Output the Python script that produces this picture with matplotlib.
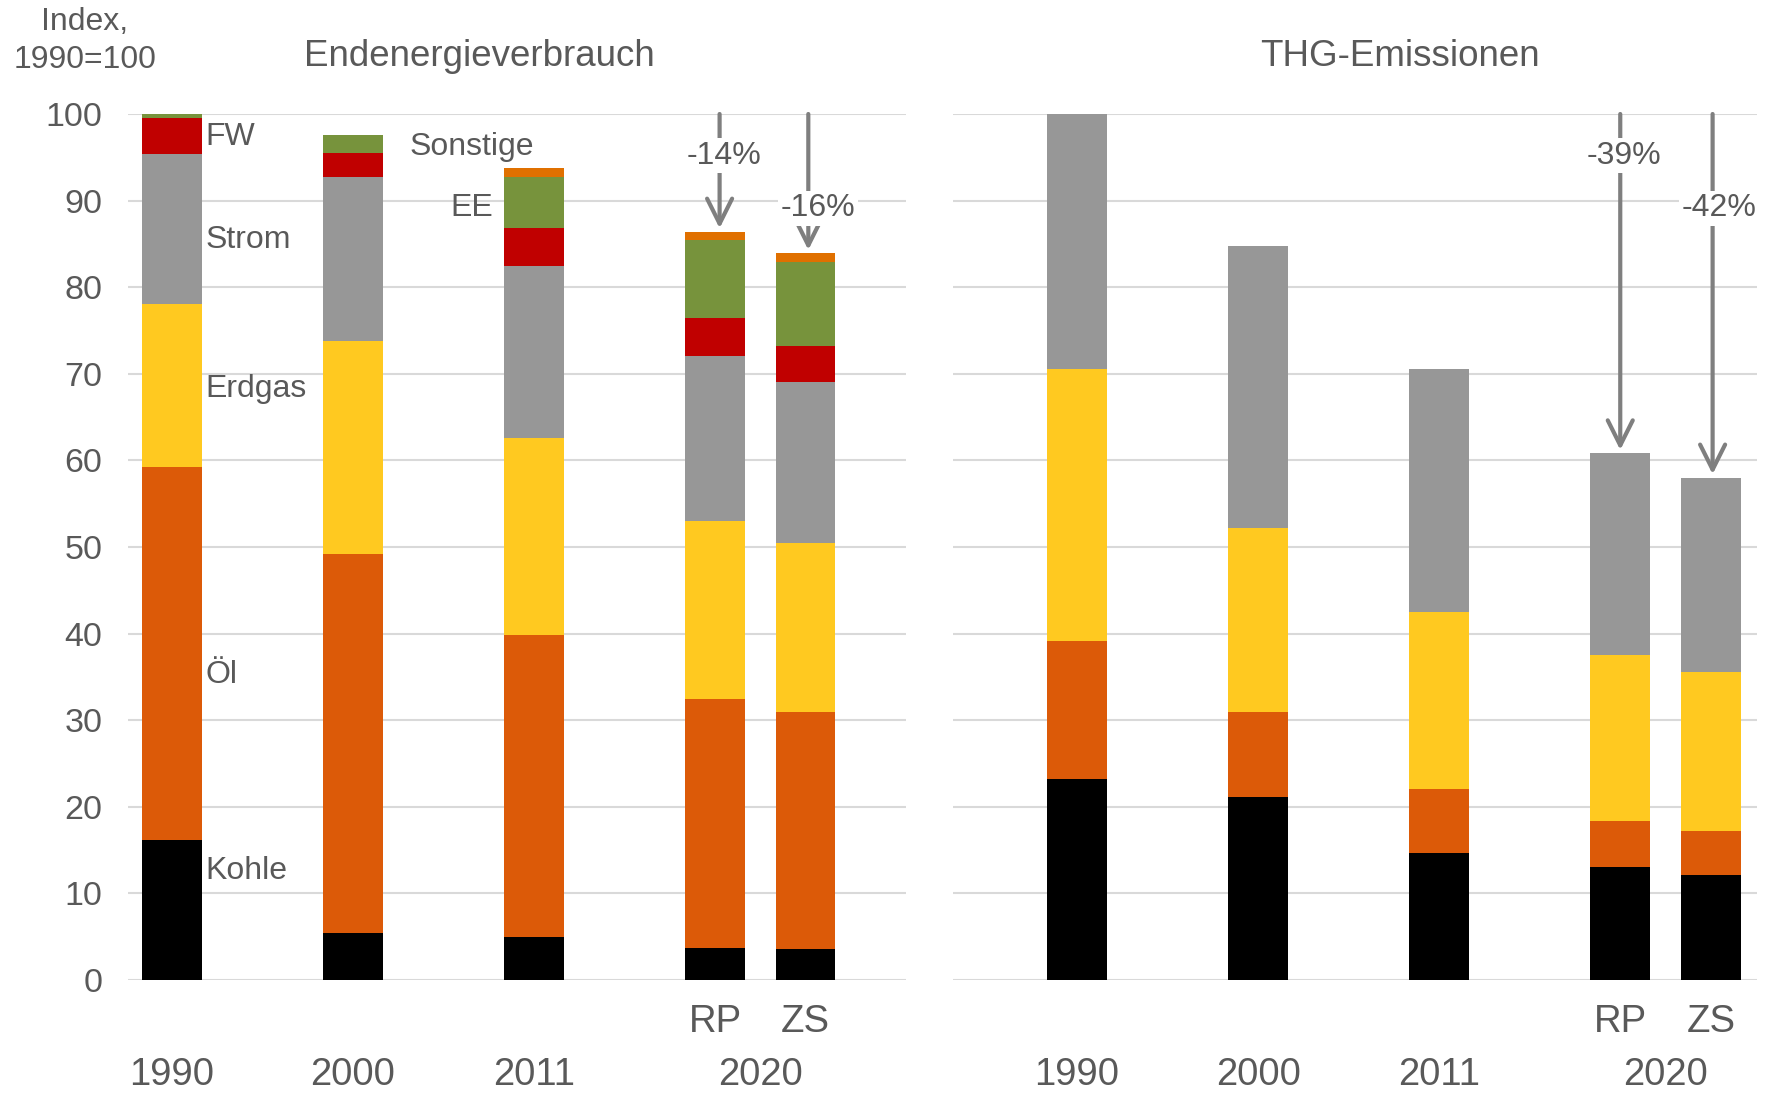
import numpy as np
import matplotlib.pyplot as plt

plt.rcParams['font.family'] = ['Liberation Sans', 'DejaVu Sans']

# Kategorien
jahre = ['1990', '2000', '2011', 'RP', 'ZS']

# Endenergieverbrauch (Index 1990=100)
ev_kohle = [16.2, 5.4, 5.0, 3.7, 3.6]
ev_oel = [43.0, 43.8, 34.8, 28.8, 27.3]
ev_erdgas = [18.9, 24.6, 22.8, 20.5, 19.6]
ev_strom = [17.3, 18.9, 19.8, 19.1, 18.5]
ev_fw = [4.1, 2.8, 4.4, 4.3, 4.2]
ev_ee = [0.5, 2.1, 5.9, 9.0, 9.7]
ev_sonstige = [0.0, 0.0, 1.1, 1.0, 1.0]

# THG-Emissionen (Index 1990=100)
thg_kohle = [23.2, 21.1, 14.7, 13.0, 12.1]
thg_oel = [15.9, 9.8, 7.3, 5.4, 5.1]
thg_erdgas = [31.5, 21.3, 20.5, 19.1, 18.4]
thg_strom = [29.4, 32.5, 28.0, 23.3, 22.4]

aenderung_ev = ['-14%', '-16%']
aenderung_thg = ['-39%', '-42%']

# Farben
c_kohle = '#000000'
c_oel = '#DC5A08'
c_erdgas = '#FFC920'
c_strom = '#979797'
c_fw = '#C00000'
c_ee = '#77933C'
c_sonst = '#E07000'
textfarbe = '#595959'
pfeilfarbe = '#7F7F7F'

pos = np.array([0, 2, 4, 6, 7])
breite = 0.66

fig = plt.figure(figsize=(17.69, 10.93), dpi=100)
ax1 = fig.add_axes([0.0721, 0.1034, 0.4401, 0.7923])
ax2 = fig.add_axes([0.5387, 0.1034, 0.4545, 0.7923])


def stapel(ax, reihen, farben):
    unten = np.zeros(len(pos))
    for werte, farbe in zip(reihen, farben):
        werte = np.array(werte)
        ax.bar(pos, werte, breite, bottom=unten, color=farbe, zorder=2)
        unten += werte
    return unten


ges_ev = stapel(ax1, [ev_kohle, ev_oel, ev_erdgas, ev_strom, ev_fw, ev_ee, ev_sonstige],
                [c_kohle, c_oel, c_erdgas, c_strom, c_fw, c_ee, c_sonst])
ges_thg = stapel(ax2, [thg_kohle, thg_oel, thg_erdgas, thg_strom],
                 [c_kohle, c_oel, c_erdgas, c_strom])

for ax in (ax1, ax2):
    ax.set_ylim(0, 100)
    ax.set_yticks(np.arange(0, 101, 10))
    ax.yaxis.grid(True, color='#D9D9D9', lw=1.5, zorder=0)
    ax.set_axisbelow(True)
    for s in ax.spines.values():
        s.set_visible(False)
    ax.set_xticks([])
    ax.tick_params(axis='y', length=0, labelsize=24.5, labelcolor=textfarbe, pad=18)
    # RP / ZS
    for i in (3, 4):
        ax.text(pos[i], -0.048, jahre[i], transform=ax.get_xaxis_transform(),
                ha='center', va='center', fontsize=27.5, color=textfarbe)
    # Jahre
    for x, j in zip([0, 2, 4, 6.5], ['1990', '2000', '2011', '2020']):
        ax.text(x, -0.11, j, transform=ax.get_xaxis_transform(),
                ha='center', va='center', fontsize=27.5, color=textfarbe)

ax1.set_xlim(-0.49, 8.11)
ax2.set_xlim(-1.37, 7.51)
ax2.tick_params(axis='y', labelleft=False)

# Beschriftungen der Energieträger
lab = dict(fontsize=23, color=textfarbe, va='center')
ax1.text(0.37, 97.4, 'FW', **lab)
ax1.text(0.37, 85.5, 'Strom', **lab)
ax1.text(0.37, 68.2, 'Erdgas', **lab)
ax1.text(0.37, 35.2, 'Öl', **lab)
ax1.text(0.37, 12.6, 'Kohle', **lab)
ax1.text(2.62, 96.2, 'Sonstige', **lab)
ax1.text(3.55, 89.1, 'EE', ha='right', **lab)


def pfeil(ax, x, ziel, text, ytext, xtext):
    ax.annotate('', xy=(x, ziel + 0.4), xytext=(x, 100),
                arrowprops=dict(arrowstyle='->,head_length=0.9,head_width=0.45',
                                color=pfeilfarbe, lw=3, mutation_scale=20,
                                shrinkA=0, shrinkB=0), zorder=3)
    ax.text(xtext, ytext, text, ha='center', va='center', fontsize=23, color=textfarbe,
            zorder=4, bbox=dict(facecolor='white', edgecolor='none', pad=2))


pfeil(ax1, pos[3] + 0.05, ges_ev[3], aenderung_ev[0], 95.2, pos[3] + 0.1)
pfeil(ax1, pos[4] + 0.03, ges_ev[4], aenderung_ev[1], 89.1, pos[4] + 0.14)
pfeil(ax2, pos[3], ges_thg[3], aenderung_thg[0], 95.2, pos[3] + 0.04)
pfeil(ax2, pos[4] + 0.02, ges_thg[4], aenderung_thg[1], 89.1, pos[4] + 0.09)

# Titel
fig.text(479 / 1769, 1 - 56 / 1093, 'Endenergieverbrauch', ha='center', va='center',
         fontsize=26.5, color=textfarbe)
fig.text(1400 / 1769, 1 - 56 / 1093, 'THG-Emissionen', ha='center', va='center',
         fontsize=26.5, color=textfarbe)
fig.text(85 / 1769, 1 - 22 / 1093, 'Index,', ha='center', va='center',
         fontsize=23, color=textfarbe)
fig.text(85 / 1769, 1 - 60 / 1093, '1990=100', ha='center', va='center',
         fontsize=23, color=textfarbe)

fig.savefig('out.png', dpi=100)
